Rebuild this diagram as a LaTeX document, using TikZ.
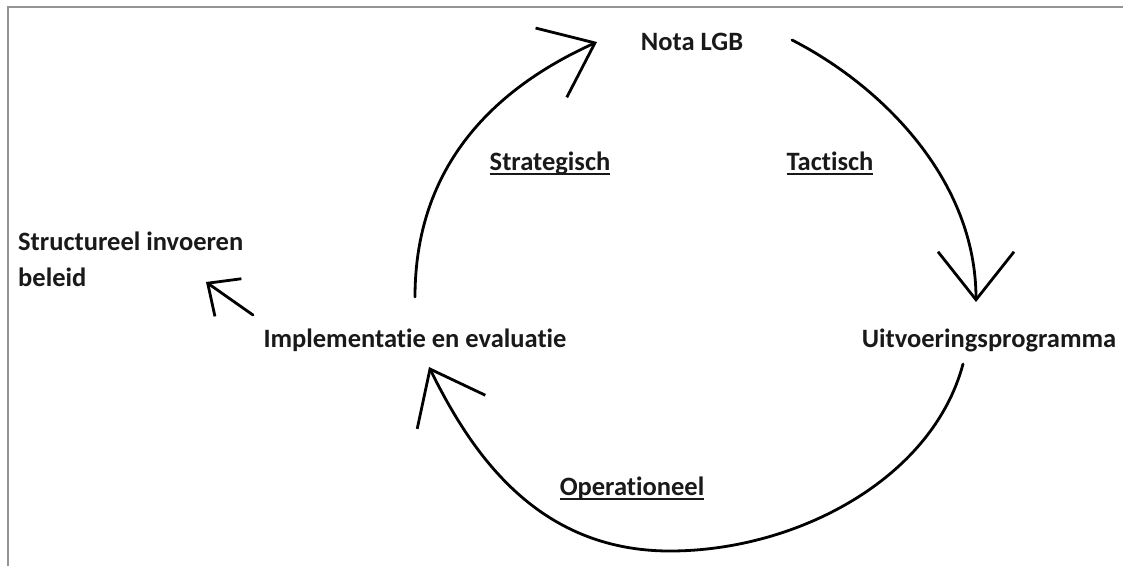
\documentclass[tikz,border=0pt]{standalone}
\usepackage{fontspec}
\setmainfont{Carlito}[Ligatures=CommonOff]
\usetikzlibrary{arrows.meta}

% onderstreepte labels bij de pijlen
\newcommand{\undl}[1]{\setbox0\hbox{#1}\rlap{\rule[-4.5pt]{\wd0}{2pt}}\box0}

\begin{document}
\begin{tikzpicture}[
  x=1pt, y=-1pt,
  lbl/.style={font=\fontsize{26.5}{36}\selectfont\bfseries, inner sep=0pt, text=black!90},
  cyc/.style={line width=2.8pt, line cap=round, -{Straight Barb[length=48pt, width=76pt]}},
  kort/.style={line width=2.8pt, line cap=round, -{Straight Barb[length=25pt, width=46pt]}}
]
\useasboundingbox (0,0) rectangle (1123,566);
\draw[black!42, line width=2pt] (7.5,566) -- (7.5,6.5) -- (1123,6.5);

% fasen van de cyclus
\node[lbl, anchor=base] (nota) at (692,50) {Nota LGB};
\node[lbl, anchor=base] (uitv) at (989,347) {Uitvoeringsprogramma};
\node[lbl, anchor=base] (impl) at (415,347) {Implementatie en evaluatie};
\node[lbl, anchor=north west, align=left] (struc) at (18,232) {Structureel invoeren\\beleid};

% niveaus
\node[lbl, anchor=base] (strat) at (550,170) {\undl{Strategisch}};
\node[lbl, anchor=base] (tact) at (830,170) {\undl{Tactisch}};
\node[lbl, anchor=base] (oper) at (632,495) {\undl{Operationeel}};

% begin- en eindpunten van de bogen
\coordinate (a1) at (415,297); \coordinate (b1) at (597,42);
\coordinate (a2) at (792,40);  \coordinate (b2) at (976,302);
\coordinate (a3) at (963,364); \coordinate (b3) at (429,367);
\coordinate (bodem) at (670,551);
\coordinate (a4) at (253,315); \coordinate (b4) at (206,282);

\draw[cyc] (a1) .. controls (415,165) and (495,88) .. (b1);
\draw[cyc] (a2) .. controls (882,86) and (976,180) .. (b2);
\draw[cyc] (a3) .. controls (932,480) and (795,551) .. (bodem)
                .. controls (535,551) and (470,450) .. (b3);
\draw[kort] (a4) -- (b4);
\end{tikzpicture}
\end{document}
